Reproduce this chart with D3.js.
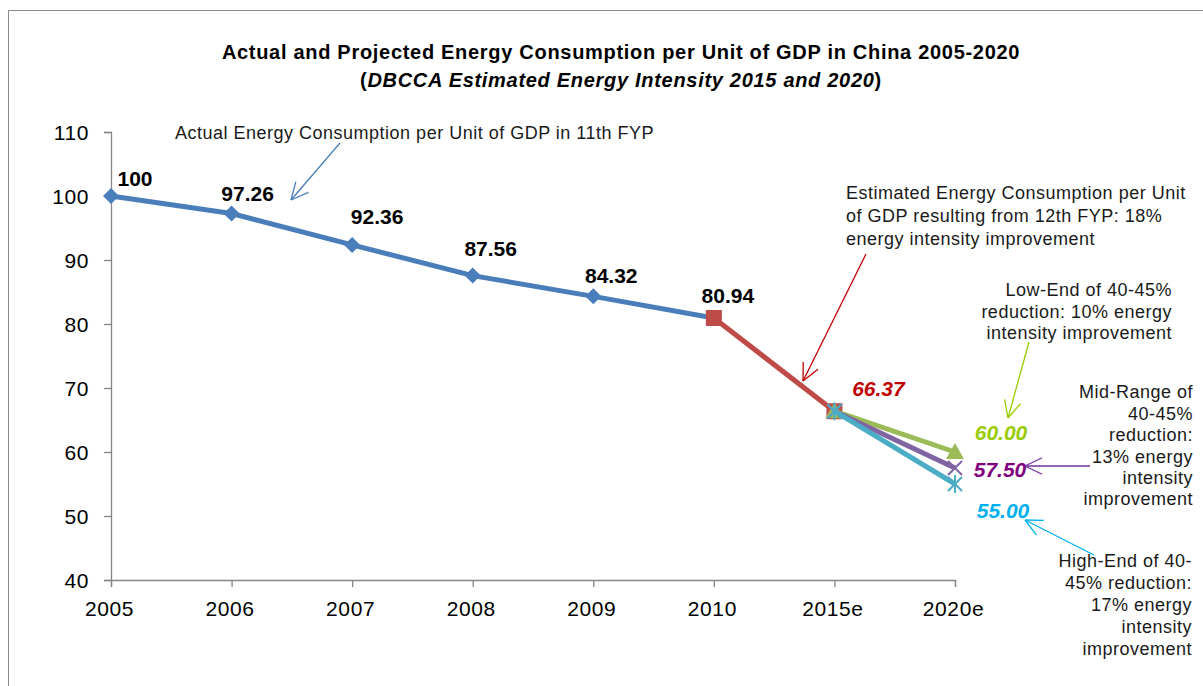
<!DOCTYPE html>
<html><head><meta charset="utf-8">
<script src="https://cdn.jsdelivr.net/npm/d3@7"></script>
<style>body{margin:0;background:#fff}svg{display:block;font-family:"Liberation Sans",Arial,sans-serif}</style>
</head><body><svg id="c" width="1203" height="686"></svg>
<script>
const categories = ["2005","2006","2007","2008","2009","2010","2015e","2020e"];
const actualCats = ["2005","2006","2007","2008","2009","2010"];
const actualValues = [100, 97.26, 92.36, 87.56, 84.32, 80.94];
const fypCats = ["2010","2015e"];
const fypValues = [80.94, 66.37];
const endCats = ["2015e","2020e"];
const lowEndValues = [66.37, 60.00];
const midRangeValues = [66.37, 57.50];
const highEndValues = [66.37, 55.00];
const yTicks = [40, 50, 60, 70, 80, 90, 100, 110];

// label layout offsets (px) relative to points
const actualLabelOffsets = [[24,-18],[16,-20],[25,-28],[18,-27],[18,-21],[14,-23]];

const svg = d3.select("#c");
const x = d3.scalePoint().domain(categories).range([111, 955]);
const y = d3.scaleLinear().domain([40, 110]).range([580, 132]);

// chart border
svg.append("rect").attr("x",8.5).attr("y",10.5).attr("width",1400).attr("height",900)
  .attr("fill","none").attr("stroke","#8c8c8c").attr("stroke-width",1);

// title
const t = svg.append("text").attr("x",621).attr("text-anchor","middle")
  .attr("font-weight","bold").attr("font-size",20).attr("letter-spacing","0.7px").attr("fill","#000");
t.append("tspan").attr("x",621).attr("y",59).text("Actual and Projected Energy Consumption per Unit of GDP in China 2005-2020");
const t2 = t.append("tspan").attr("x",621).attr("y",87);
t2.append("tspan").text("(");
t2.append("tspan").attr("font-style","italic").text("DBCCA Estimated Energy Intensity 2015 and 2020");
t2.append("tspan").text(")");

// axes
const axisColor = "#868686";
const yAxis = svg.append("g").attr("transform","translate(111,0)")
  .call(d3.axisLeft(y).tickValues(yTicks).tickSize(7).tickPadding(15).tickFormat(d3.format("d")));
const xAxis = svg.append("g").attr("transform","translate(0,580)")
  .call(d3.axisBottom(x).tickSize(7).tickPadding(10));
[yAxis,xAxis].forEach(a=>{
  a.select(".domain").attr("stroke",axisColor).attr("stroke-width",1.3);
  a.selectAll(".tick line").attr("stroke",axisColor).attr("stroke-width",1.3);
  a.selectAll("text").attr("font-size",21).attr("letter-spacing","0.6px").attr("fill","#000").attr("font-family","'Liberation Sans',Arial,sans-serif");
});
yAxis.selectAll(".tick text").attr("dy","0.36em");
xAxis.selectAll(".tick text").attr("dy","0.9em").attr("dx","-2");

const line = d3.line().x(d=>x(d[0])).y(d=>y(d[1]));
const zip = (c,v)=>c.map((k,i)=>[k,v[i]]);

const series = [
  {pts: zip(actualCats, actualValues), color:"#4a7ebb", marker:"diamond"},
  {pts: zip(fypCats, fypValues), color:"#be4b48", marker:"square"},
  {pts: zip(endCats, lowEndValues), color:"#9bbb59", marker:"triangle"},
  {pts: zip(endCats, midRangeValues), color:"#8064a2", marker:"x"},
  {pts: zip(endCats, highEndValues), color:"#4bacc6", marker:"star"}
];

series.forEach(s=>{
  svg.append("path").attr("d",line(s.pts)).attr("fill","none")
    .attr("stroke",s.color).attr("stroke-width",5).attr("stroke-linejoin","round");
  const g = svg.append("g");
  s.pts.forEach(p=>{
    const cx = x(p[0]), cy = y(p[1]);
    if (s.marker==="diamond") {
      g.append("path").attr("d",`M${cx},${cy-8}L${cx+8},${cy}L${cx},${cy+8}L${cx-8},${cy}Z`).attr("fill",s.color);
    } else if (s.marker==="square") {
      g.append("rect").attr("x",cx-8).attr("y",cy-8).attr("width",16).attr("height",16).attr("fill",s.color);
    } else if (s.marker==="triangle") {
      g.append("path").attr("d",`M${cx},${cy-9}L${cx+9},${cy+7}L${cx-9},${cy+7}Z`).attr("fill",s.color);
    } else if (s.marker==="x") {
      g.append("path").attr("d",`M${cx-7},${cy-7}L${cx+7},${cy+7}M${cx-7},${cy+7}L${cx+7},${cy-7}`).attr("stroke",s.color).attr("stroke-width",2);
    } else if (s.marker==="star") {
      g.append("path").attr("d",`M${cx-7},${cy-7}L${cx+7},${cy+7}M${cx-7},${cy+7}L${cx+7},${cy-7}M${cx},${cy-9}L${cx},${cy+9}`).attr("stroke",s.color).attr("stroke-width",2);
    }
  });
});

// data labels
actualValues.forEach((v,i)=>{
  svg.append("text").attr("x",x(actualCats[i])+actualLabelOffsets[i][0]).attr("y",y(v)+actualLabelOffsets[i][1])
    .attr("dy","0.36em").attr("text-anchor","middle").attr("font-weight","bold").attr("font-size",21)
    .attr("fill","#000").text(i===0 ? d3.format("d")(v) : d3.format(".2f")(v));
});
const endLabels = [
  {cat:"2015e", v:fypValues[1], color:"#c00000", off:[44,-23]},
  {cat:"2020e", v:lowEndValues[1], color:"#99cc00", off:[46,-20]},
  {cat:"2020e", v:midRangeValues[1], color:"#800080", off:[45,1]},
  {cat:"2020e", v:highEndValues[1], color:"#00b0f0", off:[48,26]}
];
endLabels.forEach(l=>{
  svg.append("text").attr("x",x(l.cat)+l.off[0]).attr("y",y(l.v)+l.off[1])
    .attr("dy","0.36em").attr("text-anchor","middle").attr("font-weight","bold").attr("font-style","italic")
    .attr("font-size",21).attr("fill",l.color).text(d3.format(".2f")(l.v));
});

// annotations
function note(lines, xPos, yStart, lh, anchor){
  const tx = svg.append("text").attr("font-size",18).attr("letter-spacing","0.5px").attr("fill","#1a1a1a").attr("text-anchor",anchor);
  lines.forEach((s,i)=>tx.append("tspan").attr("x",xPos).attr("y",yStart+i*lh).attr("dy","0.36em").text(s));
}
function arrow(x1,y1,x2,y2,color){
  svg.append("line").attr("x1",x1).attr("y1",y1).attr("x2",x2).attr("y2",y2).attr("stroke",color).attr("stroke-width",1.3);
  const a = Math.atan2(y1-y2, x1-x2), L = 19, s = 0.45;
  [a+s, a-s].forEach(b=>{
    svg.append("line").attr("x1",x2).attr("y1",y2).attr("x2",x2+L*Math.cos(b)).attr("y2",y2+L*Math.sin(b))
      .attr("stroke",color).attr("stroke-width",1.3);
  });
}
note(["Actual Energy Consumption per Unit of GDP in 11th FYP"], 175, 133, 22, "start");
arrow(340,143,291,200,"#4a7ebb");
note(["Estimated Energy Consumption per Unit","of GDP resulting from 12th FYP: 18%","energy intensity improvement"], 846, 193, 23, "start");
arrow(866,254,803,381,"#c00000");
note(["Low-End of 40-45%","reduction: 10% energy","intensity improvement"], 1172, 290, 21.5, "end");
arrow(1029,342,1008,418,"#99cc00");
note(["Mid-Range of","40-45%","reduction:","13% energy","intensity","improvement"], 1193, 392, 21.4, "end");
arrow(1090,466,1025,466,"#7030a0");
note(["High-End of 40-","45% reduction:","17% energy","intensity","improvement"], 1192, 561, 21.8, "end");
arrow(1094,555,1025,520,"#00b0f0");
</script></body></html>
